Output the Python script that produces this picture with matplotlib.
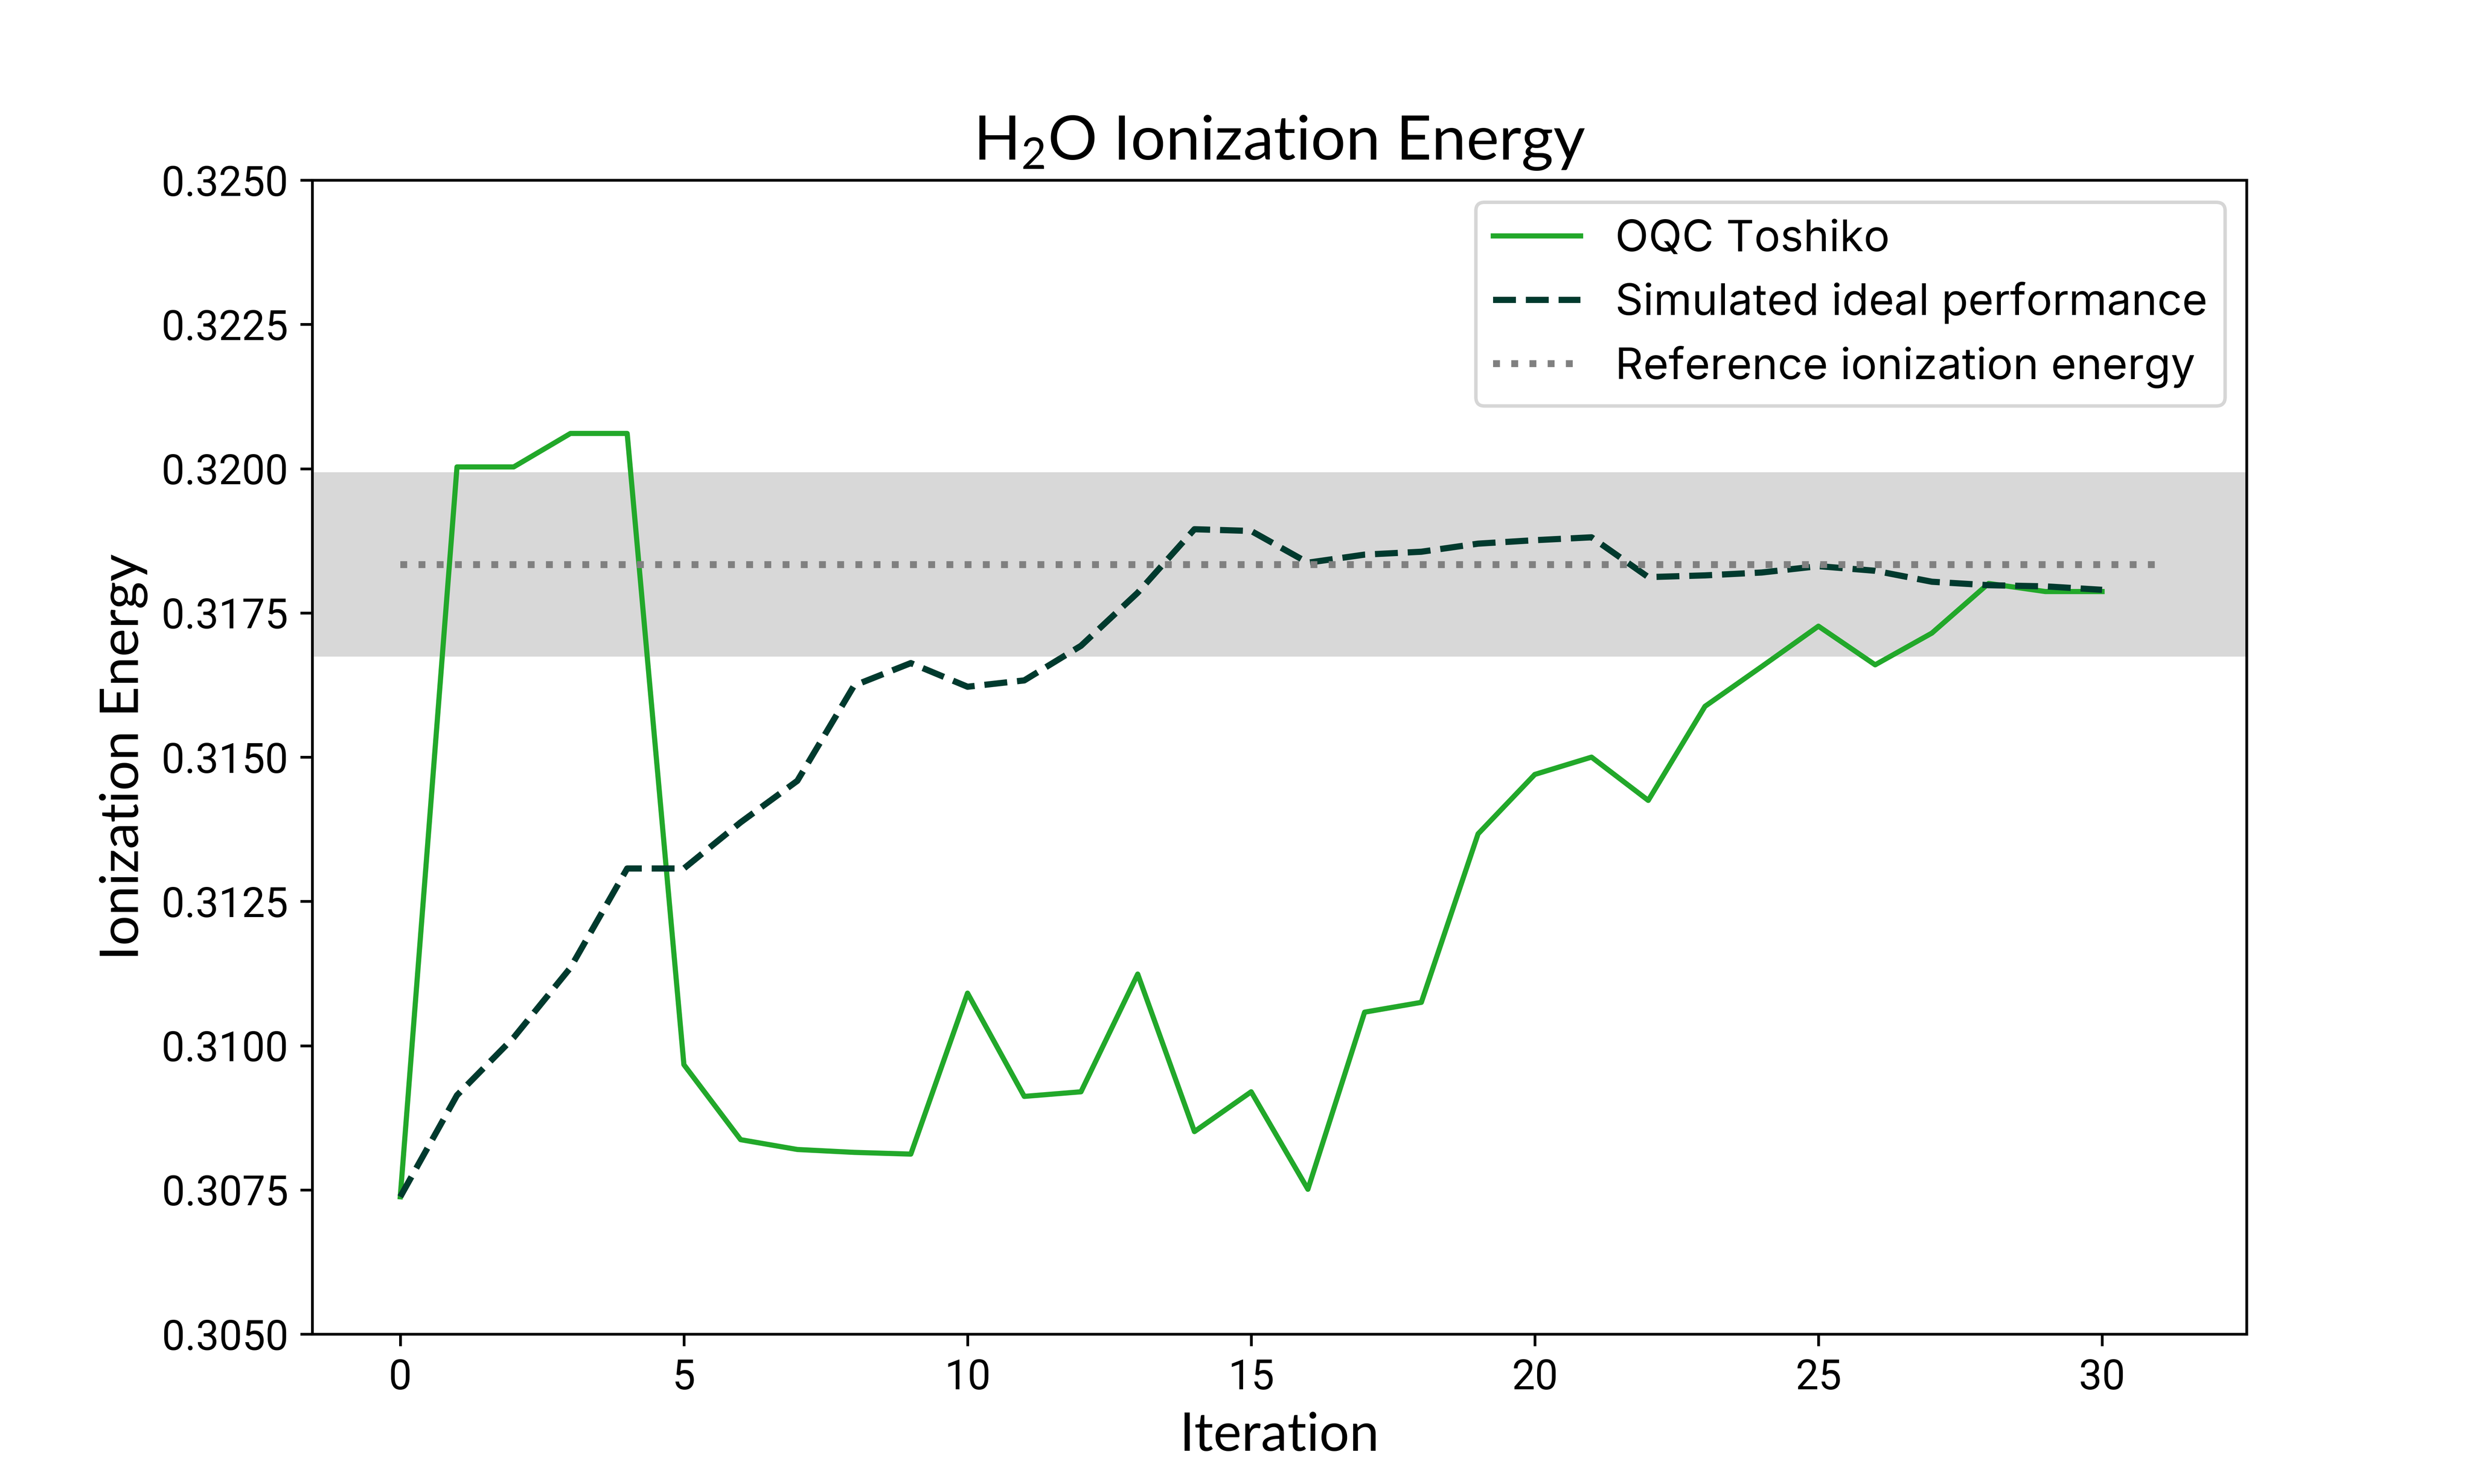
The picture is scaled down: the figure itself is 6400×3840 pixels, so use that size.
import matplotlib
matplotlib.use("Agg")
import matplotlib.pyplot as plt

iterations = list(range(31))
oqc_toshiko = [0.30738, 0.32003, 0.32003, 0.32061, 0.32061, 0.30967, 0.30837, 0.30820,
               0.30815, 0.30812, 0.31091, 0.30912, 0.30920, 0.31124, 0.30851, 0.30920,
               0.30751, 0.31058, 0.31075, 0.31367, 0.31470, 0.31500, 0.31425, 0.31588,
               0.31657, 0.31727, 0.31660, 0.31715, 0.31801, 0.31787, 0.31787]
simulated = [0.30738, 0.30914, 0.31014, 0.31135, 0.31307, 0.31307, 0.31387, 0.31459,
             0.31624, 0.31663, 0.31622, 0.31633, 0.31693, 0.31785, 0.31895, 0.31892,
             0.31837, 0.31851, 0.31856, 0.31870, 0.31876, 0.31881, 0.31812, 0.31815,
             0.31820, 0.31831, 0.31823, 0.31804, 0.31798, 0.31796, 0.31790]
reference_x = [0, 31]
reference_energy = 0.31834
chemical_accuracy = 0.0016
yticks = [0.3050, 0.3075, 0.3100, 0.3125, 0.3150, 0.3175, 0.3200, 0.3225, 0.3250]
xticks = [0, 5, 10, 15, 20, 25, 30]

text_font = ['Lato', 'DejaVu Sans']
legend_font = ['Inter', 'Lato', 'DejaVu Sans']
tick_font = ['Roboto', 'DejaVu Sans']
plt.rcParams['font.family'] = text_font
plt.rcParams['mathtext.fontset'] = 'custom'
plt.rcParams['mathtext.rm'] = 'Lato'
plt.rcParams['mathtext.it'] = 'Lato:italic'
plt.rcParams['mathtext.default'] = 'regular'

fig = plt.figure(figsize=(10, 6), dpi=640)
ax = fig.add_axes([0.1263, 0.101, 0.7822, 0.7776])

ax.axhspan(reference_energy - chemical_accuracy, reference_energy + chemical_accuracy,
           color='gray', alpha=0.3, lw=0)
ax.plot(iterations, oqc_toshiko, color='#22A82A', lw=1.5, label='OQC Toshiko')
ax.plot(iterations, simulated, color='#003A2E', lw=1.8, ls='--', label='Simulated ideal performance')
ax.plot(reference_x, [reference_energy] * len(reference_x), color='gray', lw=2, ls=':',
        label='Reference ionization energy')

ax.set_ylim(0.305, 0.325)
ax.set_yticks(yticks)
ax.set_yticklabels([f"{v:.4f}" for v in yticks])
ax.set_xticks(xticks)
for lab in ax.get_xticklabels() + ax.get_yticklabels():
    lab.set_fontfamily(tick_font)
    lab.set_fontsize(12)

ax.set_title('H$_2$O Ionization Energy', fontsize=18)
ax.set_xlabel('Iteration', fontsize=15.5)
ax.set_ylabel('Ionization Energy', fontsize=15.5)
ax.legend(loc='upper right', prop={'family': legend_font, 'size': 12.7})

fig.savefig('out.png', dpi=640)
